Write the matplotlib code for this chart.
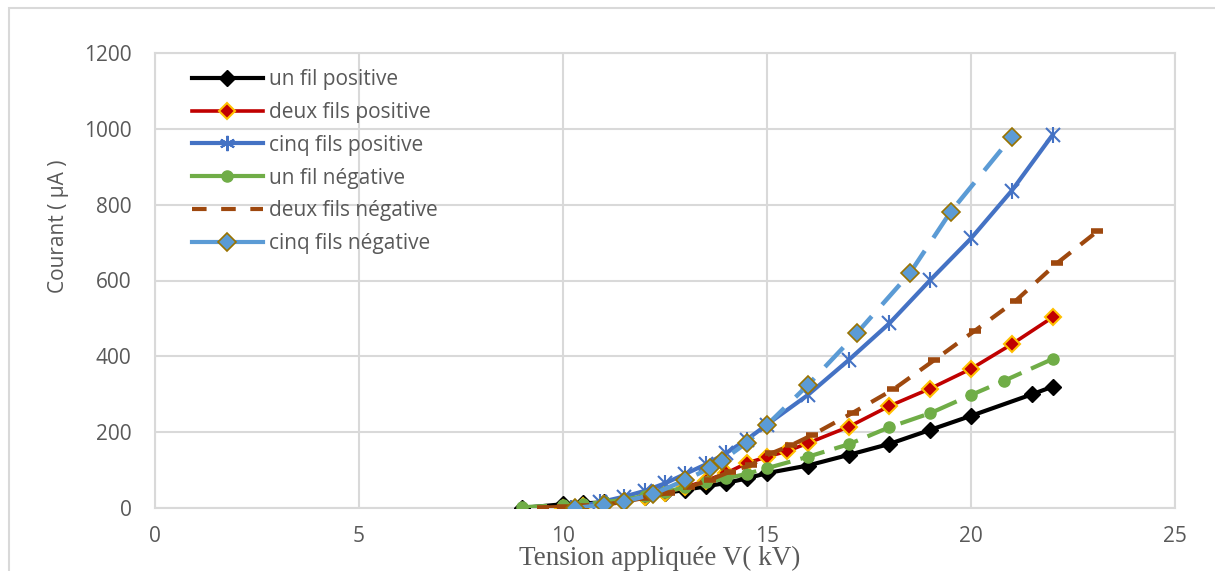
import matplotlib.pyplot as plt
from matplotlib.lines import Line2D
from matplotlib.patches import Rectangle

# courant (µA) en fonction de la tension appliquée (kV)
v_un_pos = [9, 10, 10.5, 11, 11.5, 12, 12.5, 13, 13.5, 14, 14.5, 15, 16, 17, 18, 19, 20, 21.5, 22]
i_un_pos = [0, 10, 12, 15, 20, 28, 39, 48, 57, 66, 78, 92, 112, 140, 169, 206, 243, 300, 320]

v_deux_pos = [10, 10.5, 11, 11.5, 12, 12.5, 13, 13.5, 14, 14.5, 15, 15.5, 16, 17, 18, 19, 20, 21, 22]
i_deux_pos = [0, 5, 10, 18, 28, 40, 55, 72, 92, 118, 135, 150, 171, 214, 269, 315, 367, 432, 503]

v_cinq_pos = [10.2, 10.9, 11.5, 12, 12.5, 13, 13.5, 14, 14.5, 15, 16, 17, 18, 19, 20, 21, 22]
i_cinq_pos = [0, 15, 30, 45, 65, 90, 115, 145, 180, 220, 298, 390, 487, 601, 711, 837, 984]

v_un_neg = [9, 10, 10.5, 11, 11.5, 12, 12.5, 13, 13.5, 14, 14.5, 15, 16, 17, 18, 19, 20, 20.8, 22]
i_un_neg = [2, 8, 10, 15, 22, 32, 42, 55, 68, 78, 90, 105, 135, 168, 213, 250, 298, 335, 393]

v_deux_neg = [9.5, 10, 10.5, 11, 11.5, 12, 12.6, 13.1, 13.6, 14.1, 14.6, 15.1, 15.6, 16.1,
              17.1, 18.1, 19.1, 20.1, 21.1, 22.1, 23.1]
i_deux_neg = [1, 3, 5, 9, 16, 27, 40, 56, 74, 96, 113, 144, 166, 192,
              251, 313, 390, 468, 547, 645, 730]

v_cinq_neg = [10.3, 11, 11.5, 12.2, 13, 13.6, 13.9, 14.5, 15, 16, 17.2, 18.5, 19.5, 21]
i_cinq_neg = [0, 8, 17, 36, 74, 105, 125, 172, 219, 324, 461, 619, 781, 979]

labels = ['un fil positive', 'deux fils positive', 'cinq fils positive',
          'un fil négative', 'deux fils négative', 'cinq fils négative']

grey = '#595959'
grid_c = '#d9d9d9'
plt.rcParams['font.family'] = ['Open Sans', 'DejaVu Sans']

fig = plt.figure(figsize=(12.15, 5.71), dpi=100)
ax = fig.add_axes([155 / 1215, 1 - 508 / 571, 1020 / 1215, 455 / 571])

# cadre extérieur du graphique
fig.patches.append(Rectangle((9 / 1215, -0.1), 1.2, 1 - 8 / 571 + 0.1, transform=fig.transFigure,
                             fill=False, edgecolor=grid_c, lw=1.5, zorder=0))

ax.plot(v_un_pos, i_un_pos, color='black', lw=3, marker='D', ms=8, zorder=3)
ax.plot(v_deux_pos, i_deux_pos, color='#c00000', lw=2.6, marker='D', ms=8,
        mfc='#c00000', mec='#ffc000', mew=1.5, zorder=4)
ax.plot(v_cinq_pos, i_cinq_pos, color='#4472c4', lw=3, marker='x', ms=10, mew=1.5, zorder=5)
ax.plot(v_cinq_pos, i_cinq_pos, color='#4472c4', ls='none', marker='|', ms=12, mew=1.5, zorder=5)
ax.plot(v_un_neg, i_un_neg, color='#70ad47', lw=3, dashes=(6, 2.5), marker='o', ms=8, zorder=6)
ax.plot(v_deux_neg, i_deux_neg, color='#9e480e', lw=3, dashes=(4, 3), marker='_', ms=9, mew=4, zorder=7)
ax.plot(v_cinq_neg, i_cinq_neg, color='#5b9bd5', lw=3.2, dashes=(6, 3.5), marker='D', ms=9,
        mfc='#5b9bd5', mec='#997300', mew=1.2, zorder=8)

ax.set_xlim(0, 25)
ax.set_ylim(0, 1200)
ax.set_xticks([0, 5, 10, 15, 20, 25])
ax.set_yticks(range(0, 1201, 200))
ax.grid(True, color=grid_c, lw=1.5)
ax.set_axisbelow(True)
for s in ax.spines.values():
    s.set_color(grid_c)
    s.set_linewidth(1.5)
ax.tick_params(length=0, labelsize=15, labelcolor=grey)
ax.tick_params(axis='y', pad=17)
ax.tick_params(axis='x', pad=13)

ax.set_ylabel('Courant ( µA )', fontsize=15, color=grey)
ax.yaxis.set_label_coords(-0.084, 0.62)
ax.set_xlabel('Tension appliquée V( kV)', fontsize=19.5, color=grey, family='Liberation Serif')
ax.xaxis.set_label_coords(0.495, -0.084)

handles = [
    Line2D([], [], color='black', lw=3, marker='D', ms=8),
    Line2D([], [], color='#c00000', lw=2.6, marker='D', ms=8, mfc='#c00000', mec='#ffc000', mew=1.5),
    Line2D([], [], color='#4472c4', lw=3, marker=(6, 2, 0), ms=11, mew=1.5),
    Line2D([], [], color='#70ad47', lw=3, marker='o', ms=8),
    Line2D([], [], color='#9e480e', lw=3, dashes=(3.5, 3.5)),
    Line2D([], [], color='#5b9bd5', lw=3, marker='D', ms=9, mfc='#5b9bd5', mec='#997300', mew=1.2),
]
leg = ax.legend(handles, labels, loc='upper left', bbox_to_anchor=(0.036, 0.965),
                frameon=False, fontsize=15, handlelength=3.4, handletextpad=0.3,
                labelspacing=0.57, borderaxespad=0, borderpad=0)
for t in leg.get_texts():
    t.set_color(grey)

fig.savefig('out.png', dpi=100)
